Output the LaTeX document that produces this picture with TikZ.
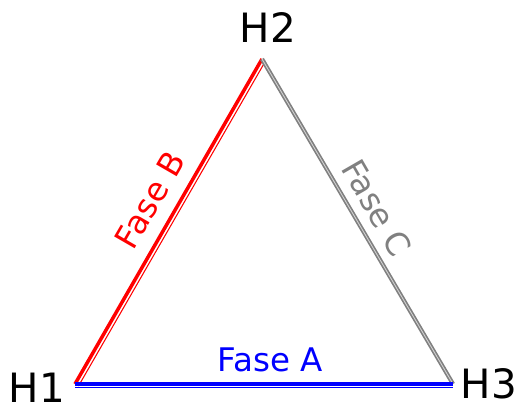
\documentclass[tikz,border=0pt]{standalone}
\usepackage{fontspec}
\setmainfont{DejaVu Sans}
\usetikzlibrary{positioning}

\tikzset{
  fase/.style={line width=2pt},
  faseline/.style={line width=0.6pt},
  hlabel/.style={font=\fontsize{23}{23}\selectfont},
  flabel/.style={font=\fontsize{18.5}{18.5}\selectfont}
}

\begin{document}
\begin{tikzpicture}[x=0.02cm,y=-0.02cm]
\useasboundingbox (0,0) rectangle (520,409);
\coordinate (h1) at (75,384);
\coordinate (h2) at (262,59);
\coordinate (h3) at (453,384);
\node[hlabel] (l1) at (37,388) {H1};
\node[hlabel] (l2) at (268,28) {H2};
\node[hlabel] (l3) at (489,384) {H3};
% fase B
\draw[red,fase] (h1) -- (h2);
\draw[red,faseline,transform canvas={shift={(3.5,2)}}] (h1) -- (h2);
% fase C
\draw[gray,line width=2.4pt] (h2) -- (h3);
\draw[gray!35,line width=0.5pt] (h2) -- (h3);
% fase A
\draw[blue,fase] (h1) -- (h3);
\draw[blue,faseline,transform canvas={shift={(0,3.5)}}] (h1) -- (h3);
\node[flabel,text=blue] (fa) at (270,360) {Fase A};
\node[flabel,text=red,rotate=60] (fb) at (150,200) {Fase B};
\node[flabel,text=gray,rotate=-60] (fc) at (377,208) {Fase C};
\end{tikzpicture}
\end{document}
